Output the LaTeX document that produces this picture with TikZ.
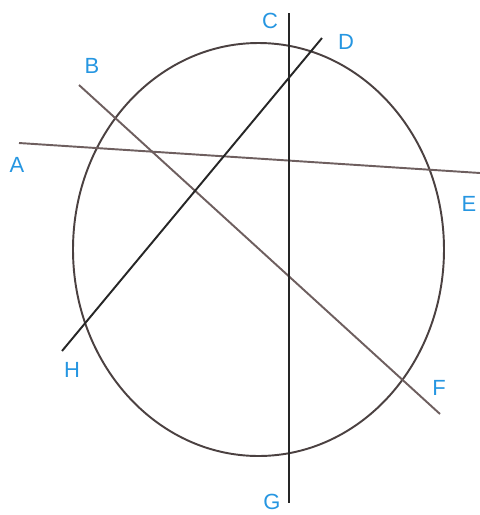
\documentclass[tikz,border=0pt]{standalone}
\usepackage{fontspec}
\setsansfont{Liberation Sans}
\definecolor{labelblue}{RGB}{38,150,225}
\definecolor{chordgray}{RGB}{110,95,95}
\definecolor{rimgray}{RGB}{75,65,65}

\begin{document}
\begin{tikzpicture}[x=0.02cm, y=-0.02cm, line width=1.1pt,
    lbl/.style={text=labelblue, inner sep=0pt, font=\sffamily\fontsize{12.5}{14}\selectfont}]
    \useasboundingbox (0,0) rectangle (480,515);

    % circle
    \draw[rimgray] (258.5,249.5) ellipse [x radius=185.5, y radius=206.5];

    % end points of the chords
    \coordinate (a) at (19,143);
    \coordinate (e) at (480,173);
    \coordinate (b) at (79,85);
    \coordinate (f) at (440,414);
    \coordinate (c) at (289,13);
    \coordinate (g) at (289,503);
    \coordinate (d) at (322,38);
    \coordinate (h) at (62,351);

    \draw[chordgray] (a) -- (e);
    \draw[chordgray] (b) -- (f);
    \draw[black!85] (c) -- (g);
    \draw[black!85] (d) -- (h);

    % labels
    \node[lbl] (la) at (17,165) {A};
    \node[lbl] (lb) at (92,66) {B};
    \node[lbl] (lc) at (270,21) {C};
    \node[lbl] (ld) at (346,42) {D};
    \node[lbl] (le) at (469,204) {E};
    \node[lbl] (lf) at (439,388) {F};
    \node[lbl] (lg) at (272,502) {G};
    \node[lbl] (lh) at (72,370) {H};
\end{tikzpicture}
\end{document}
